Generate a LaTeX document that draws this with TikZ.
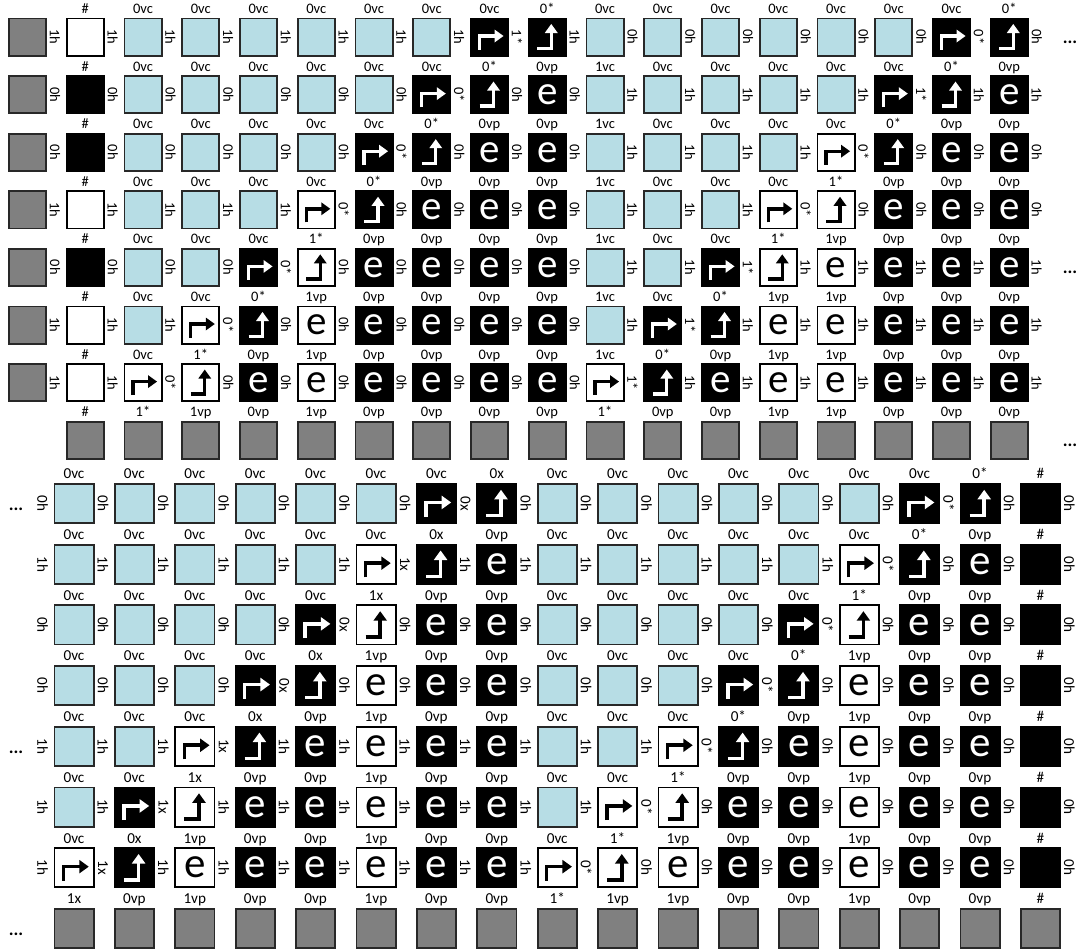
\documentclass[tikz,border=0pt]{standalone}
\usepackage{fontspec}
\setmainfont{Carlito}
\definecolor{cblue}{RGB}{183,221,229}
\definecolor{cgray}{RGB}{128,128,128}
\definecolor{cborder}{RGB}{40,40,40}
\tikzset{
  cellT/.style={rectangle, inner sep=0pt, minimum width=37.2pt, minimum height=37.2pt, line width=1.8pt, font=\fontsize{41}{41}\selectfont},
  cellB/.style={rectangle, inner sep=0pt, minimum width=39.2pt, minimum height=39.2pt, line width=1.8pt, font=\fontsize{43}{43}\selectfont},
  labT/.style={inner sep=0pt, font=\fontsize{14.5}{15}\selectfont, anchor=base},
  labB/.style={inner sep=0pt, font=\fontsize{15.2}{16}\selectfont, anchor=base},
  sideT/.style={inner sep=0pt, font=\fontsize{14.5}{15}\selectfont, rotate=-90},
  sideB/.style={inner sep=0pt, font=\fontsize{15.2}{16}\selectfont, rotate=-90},
  dotmark/.style={inner sep=0pt, font=\fontsize{18}{18}\selectfont\bfseries},
  glT/.style={scale=1},
  glB/.style={scale=1.05},
  lwT/.style={line width=3.4pt},
  lwB/.style={line width=3.55pt},
}
% glyphs
\newcommand\rarr[3]{%
  \begin{scope}[shift={(#1.center)}, gl#3]
    \draw[#2, lw#3, line join=miter] (-10,12.5) -- (-10,-1) -- (5.5,-1);
    \fill[#2] (5,-7.5) -- (14,-1) -- (5,5.5) -- cycle;
  \end{scope}}
\newcommand\uarr[3]{%
  \begin{scope}[shift={(#1.center)}, gl#3]
    \draw[#2, lw#3, line join=miter] (-10,11.5) -- (4,11.5) -- (4,-4.5);
    \fill[#2] (-2.5,-4) -- (10.5,-4) -- (4,-13) -- cycle;
  \end{scope}}
% cells: name, x, y, T/B
\newcommand\mkG[4]{\node[cell#4, fill=cgray, draw=cborder] (#1) at (#2,#3) {};}
\newcommand\mkB[4]{\node[cell#4, fill=cblue, draw=cborder] (#1) at (#2,#3) {};}
\newcommand\mkW[4]{\node[cell#4, fill=white, draw=black] (#1) at (#2,#3) {};}
\newcommand\mkK[4]{\node[cell#4, fill=black, draw=black] (#1) at (#2,#3) {};}
\newcommand\mkEK[4]{\node[cell#4, fill=black, draw=black, text=white] (#1) at (#2,#3) {e};}
\newcommand\mkEW[4]{\node[cell#4, fill=white, draw=black, text=black] (#1) at (#2,#3) {e};}
\newcommand\mkRK[4]{\mkK{#1}{#2}{#3}{#4}\rarr{#1}{white}{#4}}
\newcommand\mkRW[4]{\mkW{#1}{#2}{#3}{#4}\rarr{#1}{black}{#4}}
\newcommand\mkUK[4]{\mkK{#1}{#2}{#3}{#4}\uarr{#1}{white}{#4}}
\newcommand\mkUW[4]{\mkW{#1}{#2}{#3}{#4}\uarr{#1}{black}{#4}}
% top half row: index, cells (cols 0..17), top labels (cols 1..17), side labels (after 0..17)
\newcommand\toprow[4]{%
  \pgfmathsetmacro\cyv{37+57.6*(#1-1)}%
  \foreach \typ [count=\idx from 0] in {#2} {%
    \pgfmathsetmacro\cxv{27.5+57.75*\idx}%
    \csname mk\typ\endcsname{t#1c\idx}{\cxv}{\cyv}{T}%
  }%
  \foreach \lab [count=\idx from 1] in {#3} {%
    \pgfmathsetmacro\cxv{27.5+57.75*\idx}%
    \node[labT] (tl#1c\idx) at (\cxv,\cyv-23.5) {\lab};%
  }%
  \foreach \lab [count=\idx from 0] in {#4} {%
    \pgfmathsetmacro\cxv{55+57.75*\idx}%
    \node[sideT] (ts#1c\idx) at (\cxv,\cyv) {\lab};%
  }%
}
% bottom half row: index, cells (cols 0..16), top labels, side labels (before 0, after 0..16)
\newcommand\botrow[4]{%
  \pgfmathsetmacro\cyv{503.5+60.7*(#1-1)}%
  \foreach \typ [count=\idx from 0] in {#2} {%
    \pgfmathsetmacro\cxv{74+60.4*\idx}%
    \csname mk\typ\endcsname{b#1c\idx}{\cxv}{\cyv}{B}%
  }%
  \foreach \lab [count=\idx from 0] in {#3} {%
    \pgfmathsetmacro\cxv{74+60.4*\idx}%
    \node[labB] (bl#1c\idx) at (\cxv,\cyv-24.7) {\lab};%
  }%
  \foreach \lab [count=\idx from 0] in {#4} {%
    \pgfmathsetmacro\cxv{42.6+60.4*\idx}%
    \node[sideB] (bs#1c\idx) at (\cxv,\cyv) {\lab};%
  }%
}
\begin{document}
\begin{tikzpicture}[x=1pt, y=-1pt]
\fill[white] (0,0) rectangle (1081,951);
\useasboundingbox (0,0) rectangle (1081,951);
% ---------------- top half ----------------
\toprow{1}{G,W,B,B,B,B,B,B,RK,UK,B,B,B,B,B,B,RK,UK}
  {\#,0vc,0vc,0vc,0vc,0vc,0vc,0vc,0*,0vc,0vc,0vc,0vc,0vc,0vc,0vc,0*}
  {1h,1h,1h,1h,1h,1h,1h,1h,1*,1h,0h,0h,0h,0h,0h,0h,0*,0h}
\toprow{2}{G,K,B,B,B,B,B,RK,UK,EK,B,B,B,B,B,RK,UK,EK}
  {\#,0vc,0vc,0vc,0vc,0vc,0vc,0*,0vp,1vc,0vc,0vc,0vc,0vc,0vc,0*,0vp}
  {0h,0h,0h,0h,0h,0h,0h,0*,0h,0h,1h,1h,1h,1h,1h,1*,1h,1h}
\toprow{3}{G,K,B,B,B,B,RK,UK,EK,EK,B,B,B,B,RW,UK,EK,EK}
  {\#,0vc,0vc,0vc,0vc,0vc,0*,0vp,0vp,1vc,0vc,0vc,0vc,0vc,0*,0vp,0vp}
  {0h,0h,0h,0h,0h,0h,0*,0h,0h,0h,1h,1h,1h,1h,0*,0h,0h,0h}
\toprow{4}{G,W,B,B,B,RW,UK,EK,EK,EK,B,B,B,RW,UW,EK,EK,EK}
  {\#,0vc,0vc,0vc,0vc,0*,0vp,0vp,0vp,1vc,0vc,0vc,0vc,1*,0vp,0vp,0vp}
  {1h,1h,1h,1h,1h,0*,0h,0h,0h,0h,1h,1h,1h,0*,0h,0h,0h,0h}
\toprow{5}{G,K,B,B,RK,UW,EK,EK,EK,EK,B,B,RK,UW,EW,EK,EK,EK}
  {\#,0vc,0vc,0vc,1*,0vp,0vp,0vp,0vp,1vc,0vc,0vc,1*,1vp,0vp,0vp,0vp}
  {0h,0h,0h,0h,0*,0h,0h,0h,0h,0h,1h,1h,1*,1h,1h,1h,1h,1h}
\toprow{6}{G,W,B,RW,UK,EW,EK,EK,EK,EK,B,RK,UK,EW,EW,EK,EK,EK}
  {\#,0vc,0vc,0*,1vp,0vp,0vp,0vp,0vp,1vc,0vc,0*,1vp,1vp,0vp,0vp,0vp}
  {1h,1h,1h,0*,0h,0h,0h,0h,0h,0h,1h,1*,1h,1h,1h,1h,1h,1h}
\toprow{7}{G,W,RW,UW,EK,EW,EK,EK,EK,EK,RW,UK,EK,EW,EW,EK,EK,EK}
  {\#,0vc,1*,0vp,1vp,0vp,0vp,0vp,0vp,1vc,0*,0vp,1vp,1vp,0vp,0vp,0vp}
  {1h,1h,0*,0h,0h,0h,0h,0h,0h,0h,1*,1h,1h,1h,1h,1h,1h,1h}
% top gray row
\foreach \lab [count=\idx from 1] in {\#,1*,1vp,0vp,1vp,0vp,0vp,0vp,0vp,1*,0vp,0vp,1vp,1vp,0vp,0vp,0vp} {
  \pgfmathsetmacro\cxv{27.5+57.75*\idx}
  \mkG{t8c\idx}{\cxv}{440.2}{T}
  \node[labT] (tl8c\idx) at (\cxv,440.2-23.5) {\lab};
}
\node[dotmark] (dA) at (1070,42) {...};
\node[dotmark] (dB) at (1070,272.4) {...};
\node[dotmark] (dC) at (1070,445.2) {...};
% ---------------- bottom half ----------------
\botrow{1}{B,B,B,B,B,B,RK,UK,B,B,B,B,B,B,RK,UK,K}
  {0vc,0vc,0vc,0vc,0vc,0vc,0vc,0x,0vc,0vc,0vc,0vc,0vc,0vc,0vc,0*,\#}
  {0h,0h,0h,0h,0h,0h,0h,0x,0h,0h,0h,0h,0h,0h,0h,0*,0h,0h}
\botrow{2}{B,B,B,B,B,RW,UK,EK,B,B,B,B,B,RW,UK,EK,K}
  {0vc,0vc,0vc,0vc,0vc,0vc,0x,0vp,0vc,0vc,0vc,0vc,0vc,0vc,0*,0vp,\#}
  {1h,1h,1h,1h,1h,1h,1x,1h,1h,1h,1h,1h,1h,1h,0*,0h,0h,0h}
\botrow{3}{B,B,B,B,RK,UW,EK,EK,B,B,B,B,RK,UW,EK,EK,K}
  {0vc,0vc,0vc,0vc,0vc,1x,0vp,0vp,0vc,0vc,0vc,0vc,0vc,1*,0vp,0vp,\#}
  {0h,0h,0h,0h,0h,0x,0h,0h,0h,0h,0h,0h,0h,0*,0h,0h,0h,0h}
\botrow{4}{B,B,B,RK,UK,EW,EK,EK,B,B,B,RK,UK,EW,EK,EK,K}
  {0vc,0vc,0vc,0vc,0x,1vp,0vp,0vp,0vc,0vc,0vc,0vc,0*,1vp,0vp,0vp,\#}
  {0h,0h,0h,0h,0x,0h,0h,0h,0h,0h,0h,0h,0*,0h,0h,0h,0h,0h}
\botrow{5}{B,B,RW,UK,EK,EW,EK,EK,B,B,RW,UK,EK,EW,EK,EK,K}
  {0vc,0vc,0vc,0x,0vp,1vp,0vp,0vp,0vc,0vc,0vc,0*,0vp,1vp,0vp,0vp,\#}
  {1h,1h,1h,1x,1h,1h,1h,1h,1h,1h,1h,0*,0h,0h,0h,0h,0h,0h}
\botrow{6}{B,RK,UW,EK,EK,EW,EK,EK,B,RW,UW,EK,EK,EW,EK,EK,K}
  {0vc,0vc,1x,0vp,0vp,1vp,0vp,0vp,0vc,0vc,1*,0vp,0vp,1vp,0vp,0vp,\#}
  {1h,1h,1x,1h,1h,1h,1h,1h,1h,1h,0*,0h,0h,0h,0h,0h,0h,0h}
\botrow{7}{RW,UK,EW,EK,EK,EW,EK,EK,RW,UW,EW,EK,EK,EW,EK,EK,K}
  {0vc,0x,1vp,0vp,0vp,1vp,0vp,0vp,0vc,1*,1vp,0vp,0vp,1vp,0vp,0vp,\#}
  {1h,1x,1h,1h,1h,1h,1h,1h,1h,0*,0h,0h,0h,0h,0h,0h,0h,0h}
% bottom gray row
\foreach \lab [count=\idx from 0] in {1x,0vp,1vp,0vp,0vp,1vp,0vp,0vp,1*,1vp,1vp,0vp,0vp,1vp,0vp,0vp,\#} {
  \pgfmathsetmacro\cxv{74+60.4*\idx}
  \mkG{b8c\idx}{\cxv}{928.4}{B}
  \node[labB] (bl8c\idx) at (\cxv,928.4-24.7) {\lab};
}
\node[dotmark] (dD) at (16,509.5) {...};
\node[dotmark] (dE) at (16,752.3) {...};
\node[dotmark] (dF) at (16,934.4) {...};
\end{tikzpicture}
\end{document}
